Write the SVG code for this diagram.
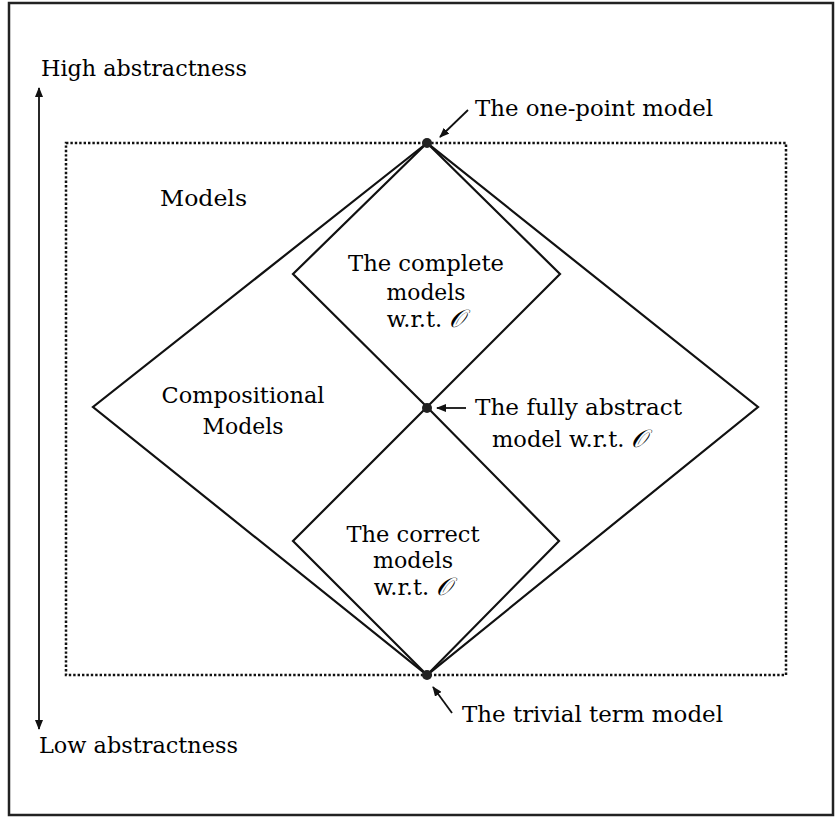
<svg xmlns="http://www.w3.org/2000/svg" width="835" height="818" viewBox="0 0 835 818">
<defs>
<style>
.t{font-family:"DejaVu Serif","Liberation Serif",serif;font-size:22.5px;fill:#000}
.c{text-anchor:middle}
.o{font-style:italic;font-size:25px}
.ln{fill:none;stroke:#111;stroke-width:2.2}
.dot{fill:#222}
.ar{fill:none;stroke:#111;stroke-width:1.8}
</style>
<marker id="ah" markerWidth="10" markerHeight="8" refX="9" refY="4" orient="auto-start-reverse" markerUnits="userSpaceOnUse">
<path d="M0,0 L10,4 L0,8 Z" fill="#111"/>
</marker>
</defs>
<rect width="835" height="818" fill="#fff"/>
<rect x="9" y="3" width="824" height="812" fill="none" stroke="#222" stroke-width="2.5"/>

<g id="axis">
<line class="ar" x1="39" y1="88" x2="39" y2="729" marker-start="url(#ah)" marker-end="url(#ah)"/>
<text class="t" x="41" y="76" textLength="206" lengthAdjust="spacingAndGlyphs">High abstractness</text>
<text class="t" x="39" y="753" textLength="199" lengthAdjust="spacingAndGlyphs">Low abstractness</text>
</g>

<g id="models">
<rect x="66" y="143" width="720" height="532" fill="none" stroke="#111" stroke-width="2.5" stroke-dasharray="2.4 2"/>
<text class="t" x="160" y="206" textLength="87" lengthAdjust="spacingAndGlyphs">Models</text>
</g>

<g id="connectors">
<polygon class="ln" points="427,143 93,407 427,675 758,407"/>
<polygon class="ln" points="427,143 293,274 427,407 560,274"/>
<polygon class="ln" points="427,407 293,541 427,675 559,541"/>
<line class="ar" x1="468" y1="110" x2="440" y2="137" marker-end="url(#ah)"/>
<line class="ar" x1="466" y1="408" x2="437" y2="408" marker-end="url(#ah)"/>
<line class="ar" x1="452" y1="713" x2="433" y2="687" marker-end="url(#ah)"/>
</g>

<g id="compositional">
<text class="t c" x="243" y="403" textLength="163" lengthAdjust="spacingAndGlyphs">Compositional</text>
<text class="t c" x="243" y="434" textLength="81" lengthAdjust="spacingAndGlyphs">Models</text>
</g>

<g id="complete">
<text class="t c" x="426" y="271" textLength="156" lengthAdjust="spacingAndGlyphs">The complete</text>
<text class="t c" x="426" y="300" textLength="79" lengthAdjust="spacingAndGlyphs">models</text>
<text class="t c" x="426" y="327">w.r.t. <tspan class="o">𝒪</tspan></text>
</g>

<g id="correct">
<text class="t c" x="413" y="542" textLength="133" lengthAdjust="spacingAndGlyphs">The correct</text>
<text class="t c" x="413" y="568" textLength="80" lengthAdjust="spacingAndGlyphs">models</text>
<text class="t c" x="413" y="595">w.r.t. <tspan class="o">𝒪</tspan></text>
</g>

<g id="one-point">
<circle class="dot" cx="427" cy="143" r="5"/>
<text class="t" x="475" y="116" textLength="238" lengthAdjust="spacingAndGlyphs">The one-point model</text>
</g>

<g id="fully-abstract">
<circle class="dot" cx="427" cy="408" r="5"/>
<text class="t" x="475" y="415" textLength="207" lengthAdjust="spacingAndGlyphs">The fully abstract</text>
<text class="t" x="492" y="447">model w.r.t. <tspan class="o">𝒪</tspan></text>
</g>

<g id="trivial">
<circle class="dot" cx="427" cy="675" r="5"/>
<text class="t" x="462" y="722" textLength="261" lengthAdjust="spacingAndGlyphs">The trivial term model</text>
</g>
</svg>
